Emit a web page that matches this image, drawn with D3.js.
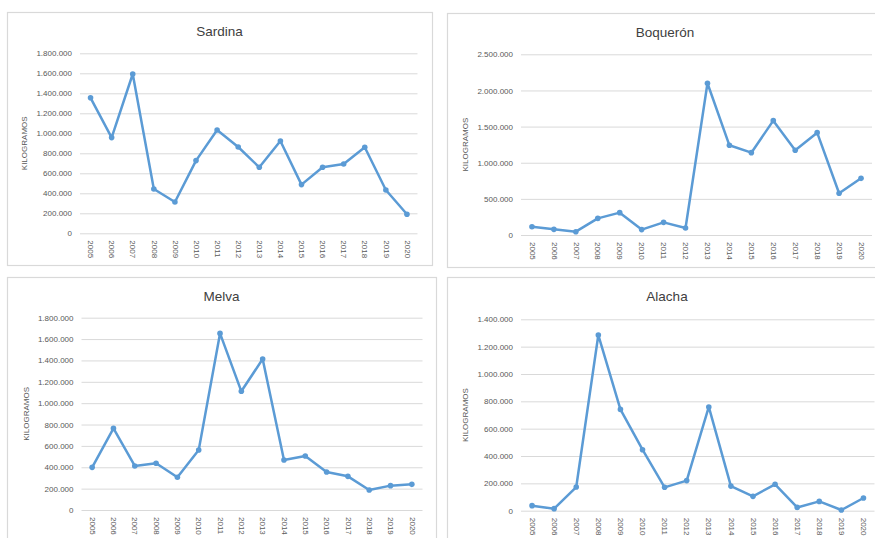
<!DOCTYPE html>
<html>
<head>
<meta charset="utf-8">
<script src="https://cdn.jsdelivr.net/npm/d3@7"></script>
<style>
  html, body { margin: 0; padding: 0; background: #fff; }
  svg { display: block; }
</style>
</head>
<body>
<svg id="chart"></svg>
<script>
// datos (kg por año)
const years = ["2005","2006","2007","2008","2009","2010","2011","2012","2013","2014","2015","2016","2017","2018","2019","2020"];

const sardina  = [1355000, 957000, 1593000, 443000, 313000, 727000, 1033000, 863000, 660000, 923000, 487000, 660000, 693000, 860000, 433000, 190000];
const boqueron = [115000, 78000, 46000, 230000, 309000, 75000, 175000, 97000, 2099000, 1241000, 1139000, 1582000, 1172000, 1416000, 577000, 784000];
const melva    = [399000, 764000, 412000, 437000, 306000, 562000, 1653000, 1111000, 1413000, 468000, 505000, 356000, 315000, 187000, 228000, 240000];
const alacha   = [37000, 15000, 173000, 1285000, 741000, 446000, 171000, 220000, 759000, 180000, 105000, 193000, 24000, 68000, 5000, 93000];

const sardinaTicks  = [0, 200000, 400000, 600000, 800000, 1000000, 1200000, 1400000, 1600000, 1800000];
const boqueronTicks = [0, 500000, 1000000, 1500000, 2000000, 2500000];
const melvaTicks    = [0, 200000, 400000, 600000, 800000, 1000000, 1200000, 1400000, 1600000, 1800000];
const alachaTicks   = [0, 200000, 400000, 600000, 800000, 1000000, 1200000, 1400000];

const width = 875;
const height = 538;
const svg = d3.select("#chart").attr("width", width).attr("height", height);

const lineColor = "#5b9bd5";
const gridColor = "#d9d9d9";
const textColor = "#595959";
const font = "'Liberation Sans', Arial, sans-serif";

// formato con punto de miles
const es = d3.formatLocale({ decimal: ",", thousands: ".", grouping: [3], currency: ["", "€"] });
const fmt = es.format(",");

// posiciones de cada panel
const panels = [
  { title: "Sardina",  values: sardina,  ticks: sardinaTicks,
    box: [7, 12, 425, 253],  plot: { x0: 80,  x1: 417.5, y0: 233.3, y1: 53.3 }, titleY: 36 },
  { title: "Boquerón", values: boqueron, ticks: boqueronTicks,
    box: [447, 13, 436, 254], plot: { x0: 521, x1: 872, y0: 235, y1: 54.3 }, titleY: 37 },
  { title: "Melva",    values: melva,    ticks: melvaTicks,
    box: [7, 277, 429, 300], plot: { x0: 81.5, x1: 422.5, y0: 510, y1: 317.7 }, titleY: 301 },
  { title: "Alacha",   values: alacha,   ticks: alachaTicks,
    box: [447, 277, 440, 300], plot: { x0: 521, x1: 874.5, y0: 510.7, y1: 319.3 }, titleY: 301 }
];

panels.forEach(drawPanel);

function drawPanel(p) {
  const g = svg.append("g");

  // marco
  g.append("rect")
    .attr("x", p.box[0] + 0.5)
    .attr("y", p.box[1] + 0.5)
    .attr("width", p.box[2])
    .attr("height", p.box[3])
    .attr("fill", "#fff")
    .attr("stroke", gridColor)
    .attr("stroke-width", 1.2);

  const x = d3.scalePoint()
    .domain(years)
    .range([p.plot.x0, p.plot.x1])
    .padding(0.5);

  const y = d3.scaleLinear()
    .domain([0, d3.max(p.ticks)])
    .range([p.plot.y0, p.plot.y1]);

  // título (centrado en el marco)
  g.append("text")
    .attr("x", p.box[0] + p.box[2] / 2)
    .attr("y", p.titleY)
    .attr("text-anchor", "middle")
    .style("font-family", font)
    .style("font-size", "13.5px")
    .attr("fill", "#404040")
    .text(p.title);

  // eje Y con líneas de cuadrícula
  const yAxis = g.append("g")
    .attr("transform", `translate(${p.plot.x0},0)`)
    .call(d3.axisLeft(y)
      .tickValues(p.ticks)
      .tickSize(-(p.plot.x1 - p.plot.x0))
      .tickPadding(8)
      .tickFormat(fmt));
  yAxis.select(".domain").remove();
  yAxis.selectAll(".tick line").attr("stroke", gridColor).attr("stroke-width", 1);
  yAxis.selectAll(".tick text")
    .attr("fill", textColor)
    .style("font-family", font)
    .style("font-size", "8px");

  // eje X (años girados)
  const xAxis = g.append("g")
    .attr("transform", `translate(0,${p.plot.y0})`)
    .call(d3.axisBottom(x).tickSize(0));
  xAxis.select(".domain").remove();
  xAxis.selectAll(".tick text")
    .attr("fill", textColor)
    .style("font-family", font)
    .style("font-size", "8px")
    .attr("text-anchor", "start")
    .attr("transform", "rotate(90)")
    .attr("x", 7)
    .attr("y", 0)
    .attr("dy", "0.35em");

  // título del eje
  g.append("text")
    .attr("transform", `translate(${p.plot.x0 - 53},${(p.plot.y0 + p.plot.y1) / 2}) rotate(-90)`)
    .attr("text-anchor", "middle")
    .attr("fill", textColor)
    .style("font-family", font)
    .style("font-size", "8px")
    .text("KILOGRAMOS");

  // línea y marcadores
  const line = d3.line()
    .x((d, i) => x(years[i]))
    .y(d => y(d));

  g.append("path")
    .datum(p.values)
    .attr("d", line)
    .attr("fill", "none")
    .attr("stroke", lineColor)
    .attr("stroke-width", 2.5)
    .attr("stroke-linejoin", "round")
    .attr("stroke-linecap", "round");

  g.selectAll("circle")
    .data(p.values)
    .join("circle")
    .attr("cx", (d, i) => x(years[i]))
    .attr("cy", d => y(d))
    .attr("r", 2.8)
    .attr("fill", lineColor);
}
</script>
</body>
</html>
